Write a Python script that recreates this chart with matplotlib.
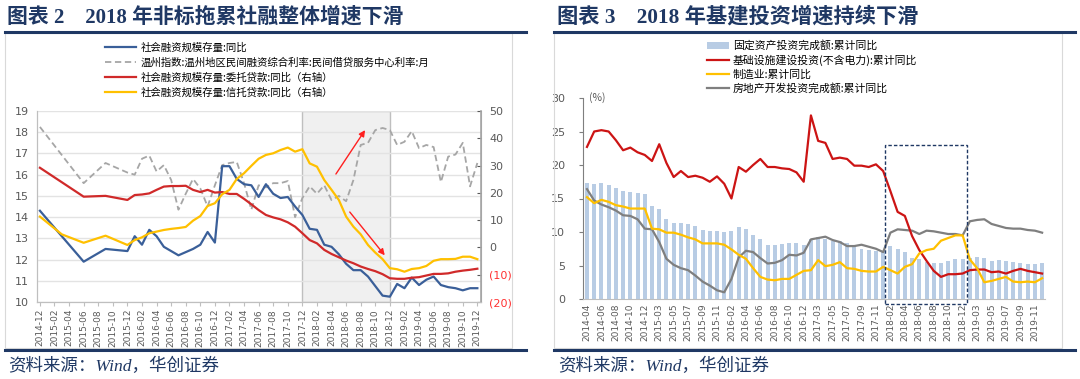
import matplotlib
matplotlib.use('Agg')
import matplotlib.pyplot as plt
from matplotlib.patches import Rectangle
from matplotlib.lines import Line2D
from matplotlib.ticker import FuncFormatter

plt.rcParams['font.family'] = ['Noto Sans CJK SC', 'DejaVu Sans']
plt.rcParams['axes.unicode_minus'] = False


def month_range(start, end, skip_jan=False):
    y, m = map(int, start.split('-'))
    ey, em = map(int, end.split('-'))
    out = []
    while (y, m) <= (ey, em):
        if not (skip_jan and m == 1):
            out.append(f'{y}-{m:02d}')
        m += 1
        if m > 12:
            y += 1
            m = 1
    return out

# ---------------- Left chart data ----------------
left_months = month_range('2014-12', '2019-12')

tsf_dates = ['2014-12', '2015-06', '2015-09'] + month_range('2015-12', '2019-12')
tsf_yoy = [14.3, 11.9, 12.5, 12.4,
           13.1, 12.7, 13.4, 13.1, 12.6, 12.4, 12.2, 12.35, 12.5, 12.7, 13.3, 12.8,
           16.4, 16.4, 15.8, 15.55, 15.5, 14.95, 15.55, 15.1, 14.9, 14.95, 14.5, 14.1,
           13.45, 13.4, 12.7, 12.6, 12.25, 11.8, 11.5, 11.5, 11.2, 10.75, 10.3, 10.25,
           10.85, 10.65, 11.15, 10.8, 11.05, 11.2, 10.8, 10.7, 10.65, 10.55, 10.65, 10.65]

wz_dates = ['2014-12', '2015-06', '2015-09'] + month_range('2015-12', '2019-12')
wz_rate = [18.25, 15.6, 16.55, 16.1,
           16.0, 16.75, 16.9, 16.15, 16.45, 15.75, 14.35, 15.1, 15.8, 15.35, 14.5, 15.5,
           16.45, 16.55, 16.6, 15.6, 14.35, 15.5, 15.4, 15.6, 15.6, 15.7, 14.0, 14.9,
           15.45, 15.1, 15.5, 14.8, 15.0, 14.75, 15.75, 17.4, 17.5, 18.1, 18.2, 18.1,
           17.4, 17.55, 18.05, 17.25, 17.4, 17.3, 15.65, 16.85, 16.95, 17.5, 15.45, 16.55]

entrust_dates = ['2014-12', '2015-06', '2015-09'] + month_range('2015-12', '2019-12')
entrust_yoy = [29.2, 18.6, 18.9, 17.4,
               19.2, 19.4, 19.8, 21.1, 22.3, 22.5, 22.5, 22.6, 21.1, 20.3, 21.1, 20.1,
               20.3, 19.6, 19.6, 17.8, 15.8, 13.7, 11.9, 11.0, 10.3, 9.2, 7.6, 5.2,
               2.7, 1.5, -0.9, -2.4, -3.6, -4.8, -5.8, -7.0, -7.9, -8.7, -9.8, -11.3,
               -11.5, -11.5, -11.1, -10.9, -10.3, -9.7, -9.7, -9.5, -8.9, -8.5, -8.2, -7.8]

trust_dates = ['2014-12', '2015-03', '2015-06', '2015-09'] + month_range('2015-12', '2019-12')
trust_yoy = [11.3, 4.8, 1.7, 4.3, 0.9,
             2.7, 3.7, 5.2, 5.8, 6.4, 6.8, 7.1, 7.5, 9.8, 11.5, 15.2, 16.2,
             19.5, 21.1, 25.1, 27.2, 29.9, 32.5, 33.9, 34.5, 35.7, 36.6, 35.1, 36.0,
             30.8, 29.6, 24.7, 21.1, 17.4, 11.3, 7.6, 4.8, 0.9, -1.9, -4.3, -7.6,
             -8.0, -8.9, -7.9, -7.6, -6.8, -4.9, -4.3, -4.3, -4.2, -3.4, -3.4, -4.3]

left_labels = ['社会融资规模存量:同比',
               '温州指数:温州地区民间融资综合利率:民间借贷服务中心利率:月',
               '社会融资规模存量:委托贷款:同比（右轴）',
               '社会融资规模存量:信托贷款:同比（右轴）']
shade_range = ('2017-12', '2018-12')

# ---------------- Right chart data ----------------
right_months = month_range('2014-04', '2019-12', skip_jan=True)
fai = [17.3, 17.2, 17.3, 17.0, 16.5, 16.1, 15.9, 15.8, 15.7,
       13.9, 13.5, 12.0, 11.4, 11.4, 11.2, 10.9, 10.3, 10.2, 10.2, 10.0,
       10.2, 10.7, 10.5, 9.6, 9.0, 8.1, 8.1, 8.2, 8.3, 8.3, 8.1,
       8.9, 9.2, 8.9, 8.6, 8.6, 8.3, 7.8, 7.5, 7.3, 7.2, 7.2,
       7.9, 7.5, 7.0, 6.1, 6.0, 5.5, 5.3, 5.4, 5.7, 5.9, 5.9,
       6.1, 6.3, 6.1, 5.6, 5.8, 5.7, 5.5, 5.4, 5.2, 5.2, 5.4]
infra = [22.7, 25.0, 25.2, 25.0, 23.7, 22.2, 22.6, 21.9, 21.5,
         20.6, 23.1, 20.3, 18.2, 19.1, 18.2, 18.4, 18.1, 17.5, 18.3, 17.2,
         15.0, 19.7, 19.0, 20.0, 20.9, 19.7, 19.7, 19.5, 19.4, 18.9, 17.5,
         27.4, 23.6, 23.3, 20.9, 21.1, 20.9, 19.9, 19.9, 19.7, 20.1, 19.1,
         16.1, 13.0, 12.4, 9.4, 7.3, 5.7, 4.2, 3.3, 3.7, 3.7, 3.8,
         4.3, 4.4, 4.4, 4.0, 4.1, 3.8, 4.2, 4.5, 4.2, 4.0, 3.8]
mfg = [15.2, 14.3, 14.8, 14.5, 14.0, 13.8, 13.5, 13.5, 13.5,
       10.5, 10.4, 9.9, 9.9, 9.6, 9.2, 8.9, 8.3, 8.3, 8.3, 8.1,
       7.4, 6.6, 6.0, 4.6, 3.3, 2.9, 2.8, 3.0, 3.0, 3.6, 4.2,
       4.3, 5.8, 4.9, 5.1, 5.5, 4.6, 4.5, 4.2, 4.1, 4.1, 4.8,
       4.3, 3.8, 4.8, 5.2, 6.8, 7.3, 7.5, 8.7, 9.1, 9.5, 9.5,
       5.9, 4.6, 2.5, 2.7, 3.0, 3.3, 2.6, 2.5, 2.6, 2.5, 3.1]
realestate = [16.4, 14.7, 14.1, 13.7, 13.2, 12.5, 12.4, 11.9, 10.5,
              10.4, 8.5, 6.0, 5.1, 4.6, 4.3, 3.5, 2.6, 2.0, 1.3, 1.0,
              3.0, 6.2, 7.2, 7.0, 6.1, 5.3, 5.4, 5.8, 6.6, 6.5, 6.9,
              8.9, 9.1, 9.3, 8.8, 8.5, 7.9, 7.9, 8.1, 7.8, 7.5, 7.0,
              9.9, 10.4, 10.3, 10.2, 9.7, 10.2, 10.1, 9.9, 9.7, 9.7, 9.5,
              11.6, 11.8, 11.9, 11.2, 10.9, 10.6, 10.5, 10.5, 10.3, 10.2, 9.9]
right_labels = ['固定资产投资完成额:累计同比',
                '基础设施建设投资(不含电力):累计同比',
                '制造业:累计同比',
                '房地产开发投资完成额:累计同比']
box_range = ('2018-02', '2018-12')

NAVY = '#1F3864'
TICKC = '#595959'
SERIF_CJK = ['Liberation Serif', 'Noto Sans CJK SC']

fig = plt.figure(figsize=(10.8, 3.79), dpi=100)
W, H = 1080, 379


def fx(px):
    return px / W


def fy(py):
    return 1 - py / H

# Titles, rules, frames, sources
fig.text(fx(7), fy(17), '图表 2　2018 年非标拖累社融整体增速下滑', fontsize=15,
         fontweight='bold', color=NAVY, va='center', ha='left', family=SERIF_CJK)
fig.text(fx(557), fy(17), '图表 3　2018 年基建投资增速持续下滑', fontsize=15.3,
         fontweight='bold', color=NAVY, va='center', ha='left', family=SERIF_CJK)
for x0, x1 in [(5, 526), (554, 1075)]:
    fig.add_artist(Line2D([fx(x0), fx(x1)], [fy(32), fy(32)], color=NAVY, lw=2.2))
    fig.add_artist(Line2D([fx(x0), fx(x1)], [fy(350), fy(350)], color=NAVY, lw=2.2))
for x0, x1 in [(5, 512), (554, 1062)]:
    fig.add_artist(Rectangle((fx(x0), fy(348)), fx(x1 - x0), (348 - 33) / H,
                             fill=False, edgecolor='#D9D9D9', lw=0.8))
for x0 in (8, 558):
    fig.text(fx(x0), fy(366), '资料来源：Wind，华创证券', fontsize=12.6, color=NAVY,
             va='center', ha='left', style='italic', family=SERIF_CJK)

# ---------------- Left chart ----------------
axL = fig.add_axes([fx(37), fy(302), fx(481 - 37), (302 - 111) / H])
axR = axL.twinx()
idx = {m: i for i, m in enumerate(left_months)}

axL.set_xlim(-0.4, 60.5)
axL.set_ylim(10, 19)
axR.set_ylim(-20, 50)
axL.set_axisbelow(True)
axL.yaxis.grid(True, color='#E3E3E3', lw=1.0, zorder=0)
axL.axvspan(idx[shade_range[0]], idx[shade_range[1]], facecolor='#F0F0F0',
            edgecolor='#BFBFBF', lw=1.0, zorder=0.2)

l1, = axL.plot([idx[d] for d in tsf_dates], tsf_yoy, color='#3A5F99', lw=1.6, zorder=3)
l2, = axL.plot([idx[d] for d in wz_dates], wz_rate, color='#A6A6A6', lw=1.3,
               ls=(0, (3.5, 2)), zorder=2)
l3, = axR.plot([idx[d] for d in entrust_dates], entrust_yoy, color='#D02A2A', lw=1.6)
l4, = axR.plot([idx[d] for d in trust_dates], trust_yoy, color='#FFC000', lw=1.6)

axL.annotate('', xy=(44.6, 18.1), xytext=(40.6, 16.03),
             arrowprops=dict(arrowstyle='-|>', color='#FF2020', lw=1.0,
                             mutation_scale=9, shrinkA=0, shrinkB=0), zorder=5)
axL.annotate('', xy=(47.3, 12.2), xytext=(42.5, 14.24),
             arrowprops=dict(arrowstyle='-|>', color='#FF2020', lw=1.0,
                             mutation_scale=9, shrinkA=0, shrinkB=0), zorder=5)

axL.set_xticks(range(0, len(left_months), 2))
axL.set_xticklabels(left_months[::2], rotation=90, fontsize=6.5, color=TICKC,
                    family='DejaVu Sans')
axL.set_yticks(range(10, 20))
axL.tick_params(axis='y', labelsize=8, colors=TICKC, length=0, pad=6)
axL.tick_params(axis='x', length=3, color='#BFBFBF', pad=2)
for lab in axL.get_yticklabels():
    lab.set_family('DejaVu Sans')

axR.set_yticks(range(-20, 51, 10))
axR.yaxis.set_major_formatter(FuncFormatter(lambda v, p: f'({abs(int(v))})' if v < 0 else f'{int(v)}'))
axR.tick_params(axis='y', labelsize=8, colors=TICKC, length=3, direction='in', pad=6)
for lab, v in zip(axR.get_yticklabels(), range(-20, 51, 10)):
    lab.set_family('DejaVu Sans')
    if v < 0:
        lab.set_color('#FF3030')
for a in (axL, axR):
    a.spines['top'].set_visible(False)
    a.spines['left'].set_color('#BFBFBF')
    a.spines['right'].set_color('#A6A6A6')
    a.spines['bottom'].set_color('#BFBFBF')
axR.spines['right'].set_linewidth(1.2)

fig.legend([l1, l2, l3, l4], left_labels, loc='upper left',
           bbox_to_anchor=(fx(100), fy(37)), frameon=False, fontsize=7.5,
           handlelength=3.0, handletextpad=0.4, labelspacing=0.45, borderpad=0)

# ---------------- Right chart ----------------
ax2 = fig.add_axes([fx(583), fy(299), fx(1045 - 583), (299 - 98) / H])
xs = list(range(len(right_months)))
ridx = {m: i for i, m in enumerate(right_months)}
b = ax2.bar(xs, fai, width=0.55, color='#B8CCE4', zorder=1)
r1, = ax2.plot(xs, infra, color='#CC1414', lw=1.6, zorder=3)
r2, = ax2.plot(xs, mfg, color='#FFC000', lw=1.6, zorder=3)
r3, = ax2.plot(xs, realestate, color='#7F7F7F', lw=1.6, zorder=2)
ax2.set_xlim(-0.55, 63.4)
ax2.set_ylim(0, 30)
ax2.add_patch(Rectangle((ridx[box_range[0]] - 0.7, -0.75),
                        ridx[box_range[1]] - ridx[box_range[0]] + 1.3, 23.75,
                        fill=False, edgecolor=NAVY, lw=1.0, ls=(0, (2.5, 1.5)),
                        clip_on=False, zorder=4))
ax2.set_xticks(range(0, len(right_months), 2))
ax2.set_xticklabels(right_months[::2], rotation=90, fontsize=6.5, color=TICKC,
                    family='DejaVu Sans')
ax2.set_yticks(range(0, 31, 5))
ax2.tick_params(axis='y', labelsize=8, colors=TICKC, length=3, color='#7F7F7F', pad=10)
ax2.tick_params(axis='x', length=0, pad=3)
for lab in ax2.get_yticklabels():
    lab.set_family('DejaVu Sans')
for s in ('top', 'right'):
    ax2.spines[s].set_visible(False)
ax2.spines['left'].set_color('#7F7F7F')
ax2.spines['bottom'].set_color('#BFBFBF')
ax2.text(0.3, 30, '(%)', fontsize=7.5, color=TICKC, va='center', ha='left')

fig.legend([b, r1, r2, r3], right_labels, loc='upper left',
           bbox_to_anchor=(fx(702), fy(35)), frameon=False, fontsize=7.8,
           handlelength=2.0, handleheight=0.6, handletextpad=0.35,
           labelspacing=0.3, borderpad=0)

fig.savefig('out.png', dpi=100)
